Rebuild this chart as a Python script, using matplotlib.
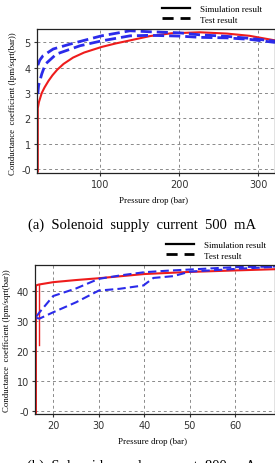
import matplotlib
matplotlib.use("Agg")
import matplotlib.pyplot as plt
from matplotlib.lines import Line2D

# ---- panel (a): 500 mA ----
a_sim_x = [21.5, 21.5, 23, 26.5, 30, 35, 40, 46, 54, 66, 80, 102, 120, 138, 163, 190, 226, 260, 289, 321]
a_sim_y = [-0.1, 2.4, 2.65, 3.0, 3.22, 3.48, 3.7, 3.92, 4.15, 4.4, 4.6, 4.82, 4.96, 5.08, 5.25, 5.36, 5.4, 5.35, 5.26, 5.08]
a_test_up_x = [21.5, 24, 28, 41, 62, 80, 102, 120, 138, 163, 200, 226, 260, 289, 321]
a_test_up_y = [4.1, 4.3, 4.47, 4.74, 4.93, 5.08, 5.26, 5.36, 5.46, 5.42, 5.38, 5.3, 5.24, 5.16, 5.05]
a_test_lo_x = [21.5, 22.5, 26.5, 31, 45, 75, 102, 138, 163, 200, 226, 260, 289, 321]
a_test_lo_y = [2.96, 3.3, 3.75, 4.14, 4.54, 4.87, 5.06, 5.26, 5.28, 5.25, 5.2, 5.18, 5.12, 5.0]
a_xticks = [100, 200, 300]
a_yticks = [0, 1, 2, 3, 4, 5]
a_ylabels = ["-0", "1", "2", "3", "4", "5"]

# ---- panel (b): 800 mA ----
b_sim_x = [16.2, 16.2, 16.8, 20, 25, 30, 35, 40, 50, 60, 68.7]
b_sim_y = [-0.5, 41.8, 42.1, 42.9, 43.6, 44.2, 44.9, 45.6, 46.3, 46.8, 47.2]
b_sim2_x = [16.8, 16.8]
b_sim2_y = [22, 42]
b_test_up_x = [16.3, 17, 20, 25, 30, 35, 40, 45, 50, 60, 68.7]
b_test_up_y = [31.5, 32.9, 38.3, 40.8, 44.0, 45.2, 46.2, 46.7, 47.1, 47.9, 48.1]
b_test_lo_x = [16.3, 17, 20, 25, 30, 34.6, 39.8, 42, 46.4, 50, 60, 68.7]
b_test_lo_y = [31.0, 30.8, 32.9, 36.2, 40.1, 40.7, 41.8, 44.3, 44.9, 46.4, 47.3, 48.0]
b_xticks = [20, 30, 40, 50, 60]
b_yticks = [0, 10, 20, 30, 40]
b_ylabels = ["-0", "10", "20", "30", "40"]

serif = "Liberation Serif"
red = "#ee1c1c"
blue = "#2b2bea"

fig = plt.figure(figsize=(2.75, 4.64), dpi=100)


def style_axes(ax, xticks, yticks, ylabels):
    ax.set_xticks(xticks)
    ax.set_yticks(yticks)
    ax.set_yticklabels(ylabels)
    ax.grid(True, color="#8a8a8a", linestyle=(0, (3, 3)), linewidth=0.7)
    ax.tick_params(labelsize=7, colors="#333333", length=2.5, width=0.8, pad=2)
    for s in ax.spines.values():
        s.set_color("#222222")
        s.set_linewidth(0.9)
    ax.set_xlabel("Pressure drop (bar)", family=serif, fontsize=6.4)
    ax.set_ylabel("Conductance  coefficient (lpm/sqrt(bar))", family=serif, fontsize=6.3)


def add_legend(x0, y0):
    handles = [Line2D([], [], color="black", lw=1.6),
               Line2D([], [], color="black", lw=2.0, linestyle=(0, (4, 2.5)))]
    fig.legend(handles, ["Simulation result", "Test result"], loc="upper left",
               bbox_to_anchor=(x0, y0), frameon=False, prop={"family": serif, "size": 6.5},
               handlelength=3.1, handletextpad=1.1, labelspacing=0.22, borderpad=0,
               borderaxespad=0)


# panel (a)
ax1 = fig.add_axes([37 / 275, 1 - 174 / 464, 238 / 275, 144 / 464])
ax1.plot(a_sim_x, a_sim_y, color=red, lw=1.5)
ax1.plot(a_test_up_x, a_test_up_y, color=blue, lw=2.0, linestyle=(0, (4, 1.8)))
ax1.plot(a_test_lo_x, a_test_lo_y, color=blue, lw=2.0, linestyle=(0, (4, 1.8)))
ax1.set_xlim(20.5, 321)
ax1.set_ylim(-0.16, 5.53)
style_axes(ax1, a_xticks, a_yticks, a_ylabels)
ax1.xaxis.set_label_coords(0.49, -0.16)
ax1.yaxis.set_label_coords(-0.085, 0.49)
add_legend(162 / 275, 1 - 6 / 464)
fig.text(0.515, 1 - 225 / 464, "(a)  Solenoid  supply  current  500  mA", family=serif,
         fontsize=10.5, ha="center", va="center")

# panel (b)
ax2 = fig.add_axes([35 / 275, 1 - 415 / 464, 240 / 275, 149 / 464])
ax2.plot(b_sim_x, b_sim_y, color=red, lw=1.5)
ax2.plot(b_sim2_x, b_sim2_y, color=red, lw=1.0)
ax2.plot(b_test_up_x, b_test_up_y, color=blue, lw=1.5, linestyle=(0, (4, 2)))
ax2.plot(b_test_lo_x, b_test_lo_y, color=blue, lw=1.5, linestyle=(0, (4, 2)))
ax2.set_xlim(16, 68.7)
ax2.set_ylim(-0.9, 48.6)
style_axes(ax2, b_xticks, b_yticks, b_ylabels)
ax2.xaxis.set_label_coords(0.49, -0.155)
ax2.yaxis.set_label_coords(-0.1, 0.5)
add_legend(166 / 275, 1 - 242 / 464)
fig.text(0.515, 1 - 460 / 464, "(b)  Solenoid  supply  current  800  mA", family=serif,
         fontsize=10.5, ha="center", va="top")

fig.savefig("out.png", dpi=100)
